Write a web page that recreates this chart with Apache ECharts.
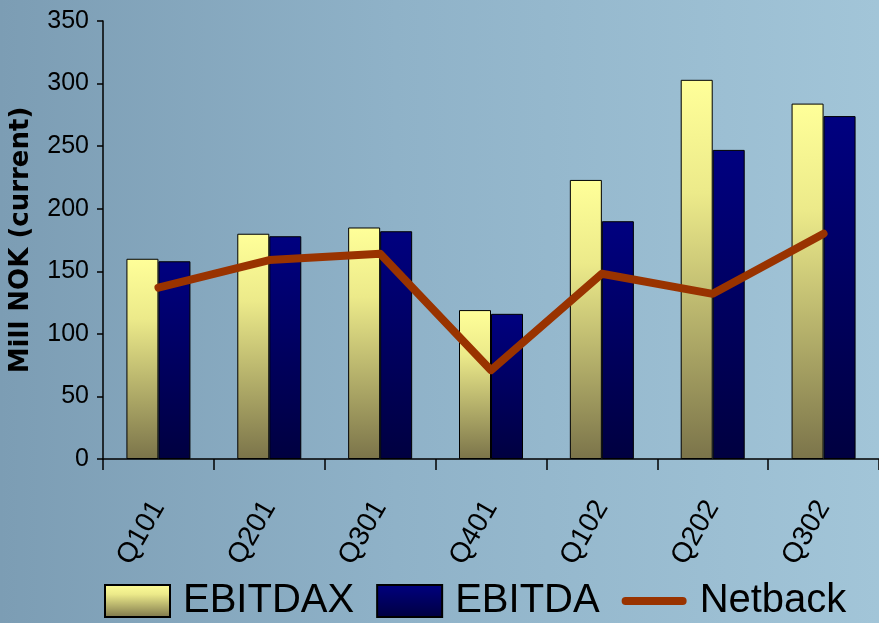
<!DOCTYPE html>
<html>
<head>
<meta charset="utf-8">
<script src="https://cdn.jsdelivr.net/npm/echarts@6/dist/echarts.min.js"></script>
<style>html,body{margin:0;padding:0;}#c{width:879px;height:623px;}</style>
</head>
<body>
<div id="c"></div>
<script>
const categories = ['Q101','Q201','Q301','Q401','Q102','Q202','Q302'];
const ebitdax = [160, 180, 185, 119, 223, 303, 284];
const ebitda = [158, 178, 182, 116, 190, 247, 274];
const netback = [137, 159, 164, 71, 148, 132, 180];
const yTicks = [0, 50, 100, 150, 200, 250, 300, 350];

const SANS = "'Liberation Sans',Arial,sans-serif";
const chart = echarts.init(document.getElementById('c'));
const G = echarts.graphic.LinearGradient;
chart.setOption({
  animation: false,
  backgroundColor: new G(0, 0, 1, 0, [
    {offset: 0, color: '#7c9db4'},
    {offset: 0.45, color: '#8fb2c8'},
    {offset: 1, color: '#a2c5d8'}
  ]),
  grid: {left: 101, top: 21, width: 785, height: 438, containLabel: false},
  legend: {
    left: 104, top: 575, width: 800, padding: 0,
    itemWidth: 65, itemHeight: 32, itemGap: 22,
    textStyle: {fontFamily: SANS, fontSize: 40, lineHeight: 48, color: '#000', padding: [4, 0, 0, 8]},
    data: [
      {name: 'EBITDAX', icon: 'rect'},
      {name: 'EBITDA', icon: 'rect'},
      {name: 'Netback',
       icon: 'path://M0,0 M4,12 L61,12 A4,4 0 0 1 61,20 L4,20 A4,4 0 0 1 4,12 Z M65,32',
       itemStyle: {color: '#993300', borderWidth: 0}}
    ]
  },
  xAxis: {
    type: 'category',
    data: categories,
    axisLine: {lineStyle: {color: '#000', width: 1.5}},
    axisTick: {show: true, length: 11, lineStyle: {color: '#000', width: 1.5}},
    axisLabel: {rotate: 60, fontFamily: SANS, fontSize: 28, color: '#000', margin: 44}
  },
  yAxis: {
    type: 'value',
    min: yTicks[0], max: yTicks[yTicks.length - 1], interval: 50,
    name: 'Mill NOK (current)',
    nameLocation: 'middle',
    nameGap: 69,
    nameTextStyle: {fontFamily: "'DejaVu Sans',sans-serif", fontWeight: 'bold', fontSize: 26, color: '#000'},
    splitLine: {show: false},
    axisLine: {show: true, lineStyle: {color: '#000', width: 1.5}},
    axisTick: {show: true, length: 6, lineStyle: {color: '#000', width: 1.5}},
    axisLabel: {fontFamily: SANS, fontSize: 25, color: '#000', margin: 14}
  },
  series: [
    {
      name: 'EBITDAX', type: 'bar', data: ebitdax,
      barWidth: 32, barGap: '0%',
      itemStyle: {
        color: new G(0, 0, 0, 1, [{offset: 0, color: '#ffff99'}, {offset: 0.3, color: '#ecea8a'}, {offset: 1, color: '#7b744a'}]),
        borderColor: '#000', borderWidth: 1
      }
    },
    {
      name: 'EBITDA', type: 'bar', data: ebitda,
      barWidth: 32, barGap: '0%',
      itemStyle: {
        color: new G(0, 0, 0, 1, [{offset: 0, color: '#000080'}, {offset: 1, color: '#000040'}]),
        borderColor: '#000', borderWidth: 1
      }
    },
    {
      name: 'Netback', type: 'line', data: netback,
      symbol: 'none',
      lineStyle: {color: '#993300', width: 8, cap: 'round', join: 'round'},
      itemStyle: {color: '#993300'},
      z: 5
    }
  ]
});
</script>
</body>
</html>
